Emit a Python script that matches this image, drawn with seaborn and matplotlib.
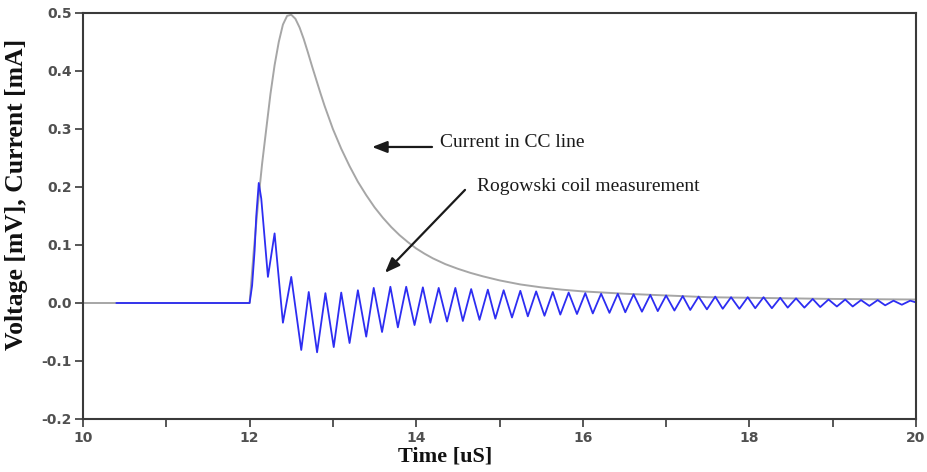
import matplotlib
matplotlib.use("Agg")
import matplotlib.pyplot as plt
import seaborn as sns
import pandas as pd
from matplotlib.ticker import FixedLocator, FixedFormatter

# ---- data ----
current_t = [10.0, 12.0, 12.05, 12.1, 12.15, 12.2, 12.25, 12.3, 12.35, 12.4, 12.45,
             12.5, 12.55, 12.6, 12.65, 12.7, 12.75, 12.8, 12.85, 12.9, 12.95, 13.0,
             13.1, 13.2, 13.3, 13.4, 13.5, 13.6, 13.7, 13.8, 13.9, 14.0, 14.1, 14.2,
             14.35, 14.5, 14.65, 14.8, 15.0, 15.25, 15.5, 15.75, 16.0, 16.5,
             17.0, 17.5, 18.0, 19.0, 20.0]
current_v = [0.0, 0.0, 0.09, 0.17, 0.24, 0.30, 0.36, 0.41, 0.45, 0.48, 0.495,
             0.497, 0.49, 0.475, 0.455, 0.432, 0.408, 0.385, 0.362, 0.34, 0.32, 0.30,
             0.266, 0.236, 0.209, 0.186, 0.165, 0.147, 0.131, 0.117, 0.105, 0.094, 0.085, 0.077,
             0.067, 0.059, 0.052, 0.046, 0.039, 0.032, 0.027, 0.023, 0.020, 0.016,
             0.013, 0.010, 0.009, 0.007, 0.006]

rogowski_t = [10.4, 12.0, 12.03, 12.06, 12.08, 12.11, 12.14, 12.22, 12.30, 12.40, 12.50,
              12.62, 12.71, 12.81, 12.91, 13.01, 13.10, 13.20, 13.30, 13.40, 13.49,
              13.59, 13.69, 13.78, 13.88, 13.98, 14.08, 14.17, 14.27, 14.37, 14.47,
              14.56, 14.66, 14.76, 14.86, 14.95, 15.05, 15.15, 15.25, 15.34, 15.44,
              15.54, 15.64, 15.73, 15.83, 15.93, 16.03, 16.12, 16.22, 16.32, 16.42,
              16.51, 16.61, 16.71, 16.81, 16.90, 17.00, 17.10, 17.20, 17.29, 17.39,
              17.49, 17.59, 17.68, 17.78, 17.88, 17.98, 18.07, 18.17, 18.27, 18.37,
              18.46, 18.56, 18.66, 18.76, 18.85, 18.95, 19.05, 19.15, 19.24, 19.34,
              19.44, 19.54, 19.63, 19.73, 19.83, 19.93, 20.0]
rogowski_v = [0.0, 0.0, 0.03, 0.09, 0.15, 0.207, 0.18, 0.045, 0.12, -0.034, 0.045,
              -0.081, 0.019, -0.085, 0.017, -0.076, 0.018, -0.069, 0.022, -0.058, 0.026,
              -0.050, 0.028, -0.042, 0.028, -0.038, 0.027, -0.034, 0.026, -0.032, 0.026,
              -0.031, 0.024, -0.029, 0.023, -0.027, 0.022, -0.025, 0.021, -0.023, 0.020,
              -0.022, 0.019, -0.020, 0.018, -0.019, 0.017, -0.018, 0.016, -0.017, 0.016,
              -0.016, 0.015, -0.015, 0.014, -0.014, 0.013, -0.013, 0.012, -0.012, 0.011,
              -0.011, 0.011, -0.010, 0.010, -0.010, 0.010, -0.009, 0.010, -0.009, 0.009,
              -0.008, 0.008, -0.008, 0.007, -0.007, 0.006, -0.006, 0.006, -0.006, 0.005,
              -0.005, 0.005, -0.004, 0.004, -0.003, 0.004, 0.001]

x_ticks = [10, 11, 12, 13, 14, 15, 16, 17, 18, 19, 20]
x_tick_labels = ["10", "", "12", "", "14", "", "16", "", "18", "", "20"]
y_ticks = [0.5, 0.4, 0.3, 0.2, 0.1, 0.0, -0.1, -0.2]
y_tick_labels = ["0.5", "0.4", "0.3", "0.2", "0.1", "0.0", "-0.1", "-0.2"]

ann1_text = "Current in CC line"
ann1_xy, ann1_tail, ann1_pos = (13.47, 0.269), (14.19, 0.269), (14.29, 0.276)
ann2_text = "Rogowski coil measurement"
ann2_xy, ann2_tail, ann2_pos = (13.625, 0.052), (14.586, 0.195), (14.73, 0.200)

# ---- plotting ----
sns.set_style("ticks")
plt.rcParams["axes.unicode_minus"] = False

fig = plt.figure(figsize=(9.27, 4.72), dpi=100)
ax = fig.add_axes([83/927, 53/472, 833/927, 406/472])

df_c = pd.DataFrame({"t": current_t, "v": current_v})
df_r = pd.DataFrame({"t": rogowski_t, "v": rogowski_v})
sns.lineplot(data=df_c, x="t", y="v", ax=ax, color="#a6a6a6", linewidth=1.4,
             estimator=None, sort=False)
sns.lineplot(data=df_r, x="t", y="v", ax=ax, color="#2d2df2", linewidth=1.3,
             estimator=None, sort=False)

ax.set_xlim(10, 20)
ax.set_ylim(-0.2, 0.5)

ax.xaxis.set_major_locator(FixedLocator(x_ticks))
ax.xaxis.set_major_formatter(FixedFormatter(x_tick_labels))
ax.yaxis.set_major_locator(FixedLocator(y_ticks))
ax.yaxis.set_major_formatter(FixedFormatter(y_tick_labels))

for sp in ax.spines.values():
    sp.set_visible(True)
    sp.set_color("#3a3a3a")
    sp.set_linewidth(1.5)

ax.tick_params(axis="both", direction="out", length=6, width=1.2, color="#3a3a3a",
               labelcolor="#505050")
ax.tick_params(axis="x", pad=3)
ax.tick_params(axis="y", pad=2)
for lab in ax.get_xticklabels() + ax.get_yticklabels():
    lab.set_fontfamily("DejaVu Sans")
    lab.set_fontweight("bold")
    lab.set_fontsize(10)

ax.set_xlabel("Time [uS]", fontfamily="Liberation Serif", fontweight="bold",
              fontsize=16, color="#111111")
ax.set_ylabel("Voltage [mV], Current [mA]", fontfamily="Liberation Serif",
              fontweight="bold", fontsize=18.5, color="#111111")
ax.xaxis.set_label_coords(0.4346, -0.068)
ax.yaxis.set_label_coords(-0.066, 0.554)

arrow_kw = dict(arrowstyle="-|>,head_length=0.9,head_width=0.35", color="#1a1a1a",
                linewidth=1.6, shrinkA=0, shrinkB=0)
ax.annotate("", xy=ann1_xy, xytext=ann1_tail, arrowprops=arrow_kw)
ax.annotate("", xy=ann2_xy, xytext=ann2_tail, arrowprops=arrow_kw)
ax.text(ann1_pos[0], ann1_pos[1], ann1_text, fontfamily="Liberation Serif",
        fontsize=14, color="#1a1a1a", va="center", ha="left")
ax.text(ann2_pos[0], ann2_pos[1], ann2_text, fontfamily="Liberation Serif",
        fontsize=14, color="#1a1a1a", va="center", ha="left")

fig.savefig("out.png", dpi=100)
